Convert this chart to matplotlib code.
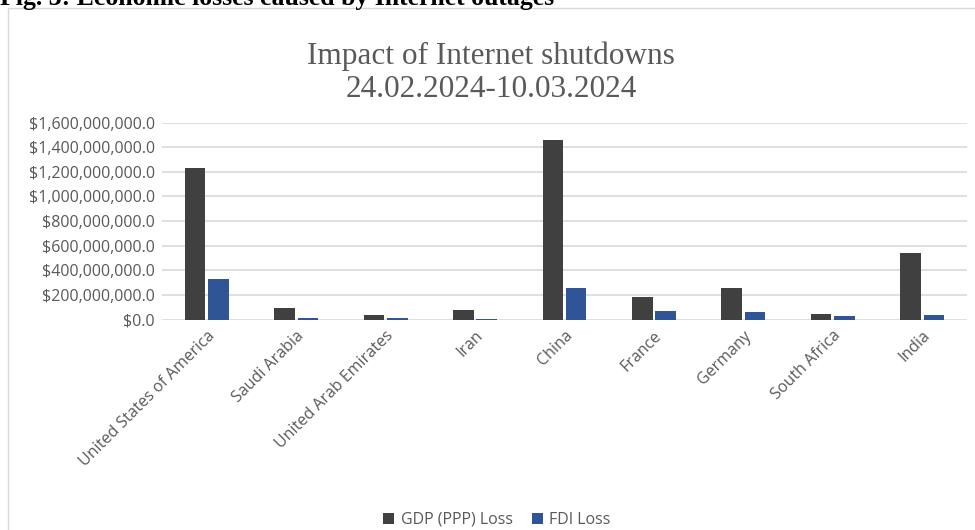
import matplotlib.pyplot as plt
import matplotlib.patches as patches
from matplotlib.ticker import FuncFormatter
import numpy as np

countries = ["United States of America", "Saudi Arabia", "United Arab Emirates", "Iran",
             "China", "France", "Germany", "South Africa", "India"]
gdp_loss = [1228e6, 92e6, 35e6, 76e6, 1458e6, 181e6, 255e6, 43e6, 539e6]
fdi_loss = [333e6, 10e6, 10e6, 4e6, 255e6, 67e6, 59e6, 27e6, 35e6]

W, H = 975, 530
fig = plt.figure(figsize=(W / 100, H / 100), dpi=100)

# page header, cut at the top like the screenshot
fig.text(0.0, 1 - 5 / H, "Fig. 3: Economic losses caused by Internet outages",
         family="Liberation Serif", weight="bold", fontsize=18.5, va="baseline", ha="left")

# chart frame
fig.patches.append(patches.Rectangle((8 / W, -0.1), 1.1, 1.1 - 8 / H,
                                     transform=fig.transFigure, fill=False,
                                     edgecolor="#d9d9d9", linewidth=1))

ax = fig.add_axes([162 / W, 1 - 319.5 / H, (967 - 162) / W, (319.5 - 122.7) / H])

x = np.arange(len(countries))
bw = 0.23
ax.bar(x - 0.13, gdp_loss, bw, color="#404040", label="GDP (PPP) Loss", zorder=3)
ax.bar(x + 0.13, fdi_loss, bw, color="#2f5597", label="FDI Loss", zorder=3)

ax.set_xlim(-0.5, len(countries) - 0.5)
ax.set_ylim(0, 1.6e9)
ax.set_yticks(np.arange(0, 1.6e9 + 1, 2e8))
ax.yaxis.set_major_formatter(FuncFormatter(lambda v, p: "${:,.1f}".format(v)))
ax.grid(axis="y", color="#d9d9d9", linewidth=1.2, zorder=0)
for s in ax.spines.values():
    s.set_visible(False)
ax.tick_params(axis="both", length=0, colors="#595959", labelsize=11.5)
ax.set_xticks(x)
ax.set_xticklabels(countries, rotation=45, ha="right", rotation_mode="anchor")
for t in ax.get_yticklabels() + ax.get_xticklabels():
    t.set_family("Open Sans")
ax.tick_params(axis="y", pad=5)
ax.tick_params(axis="x", pad=6)

fig.text(491 / W, 1 - 73 / H, "Impact of Internet shutdowns\n24.02.2024-10.03.2024",
         family="Liberation Serif", fontsize=22.5, color="#595959",
         ha="center", va="center", linespacing=1.2)

fig.legend(loc="center", bbox_to_anchor=(497 / W, 1 - 520 / H), ncol=2, frameon=False,
           prop={"family": "Open Sans", "size": 11.5}, labelcolor="#595959",
           handlelength=0.7, handleheight=0.7, handletextpad=0.4, columnspacing=1.2)

fig.savefig("out.png", dpi=100)
